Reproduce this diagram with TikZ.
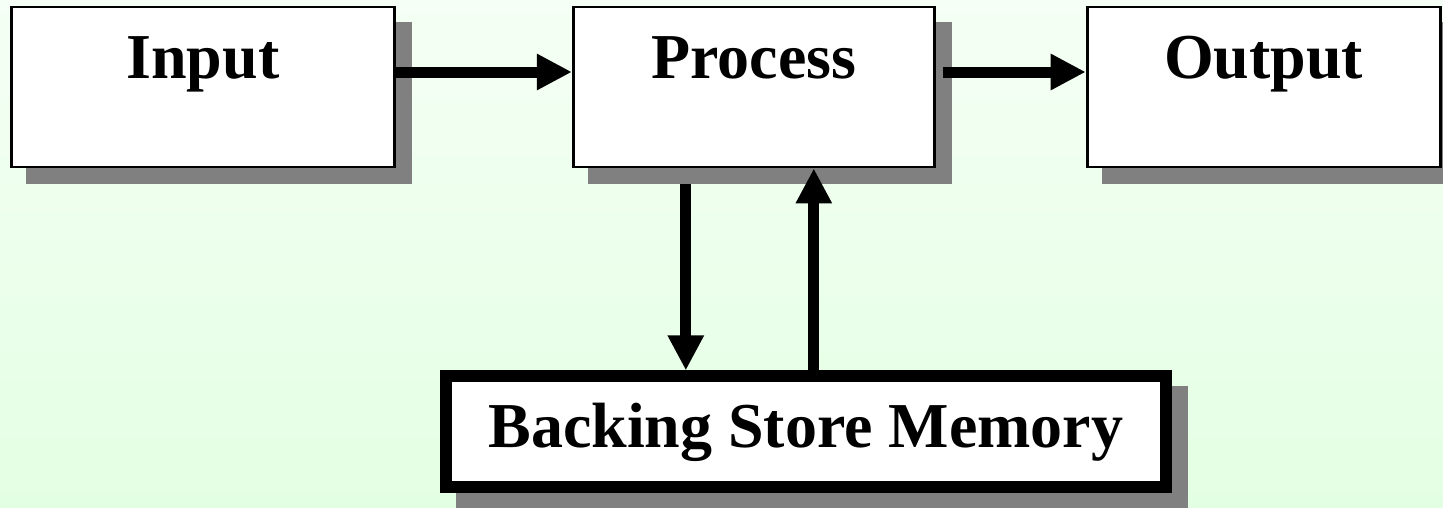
\documentclass[tikz,border=0pt]{standalone}
\usepackage{fontspec}
\setmainfont{Liberation Serif}
\usetikzlibrary{arrows.meta,positioning,shadows}
\definecolor{bgtop}{RGB}{245,255,245}
\definecolor{bgbottom}{RGB}{227,255,227}

\begin{document}
\begin{tikzpicture}[
    node distance=1.76cm and 1.76cm,
    box/.style={rectangle, draw, fill=white, line width=0.8pt, inner sep=0pt, minimum height=1.6cm, text height=0.715cm, text depth=0.885cm, font=\fontsize{18.2}{22}\selectfont\bfseries, drop shadow={shadow xshift=0.16cm, shadow yshift=-0.16cm, fill=gray, draw=gray, opacity=1}},
    storebox/.style={box, line width=0.12cm, minimum height=1.11cm, text height=0.71cm, text depth=0.40cm},
    arrow/.style={-{Triangle[length=0.35cm, width=0.34cm]}, line width=0.11cm},
]
\shade[top color=bgtop, bottom color=bgbottom] (0,0) rectangle (14.43,-5.08);
\useasboundingbox (0,0) rectangle (14.43,-5.08);

\node[box, minimum width=3.83cm] (input) at (2.03,-0.87) {Input};
\node[box, minimum width=3.61cm, right=1.76cm of input] (process) {Process};
\node[box, minimum width=3.53cm, right=1.50cm of process] (output) {Output};
\node[storebox, minimum width=7.20cm, below=2.02cm of process, xshift=0.52cm] (store) {Backing Store Memory};

\draw[arrow] ([yshift=0.15cm]input.east) -- ([yshift=0.15cm]process.west);
\draw[arrow] ([xshift=0.07cm,yshift=0.15cm]process.east) -- ([yshift=0.15cm]output.west);
\draw[arrow] ([xshift=-1.2cm,yshift=-0.16cm]store.north |- process.south) -- ([xshift=-1.2cm]store.north);
\draw[arrow] ([xshift=0.08cm]store.north) -- ([xshift=0.08cm]store.north |- process.south);
\end{tikzpicture}
\end{document}
